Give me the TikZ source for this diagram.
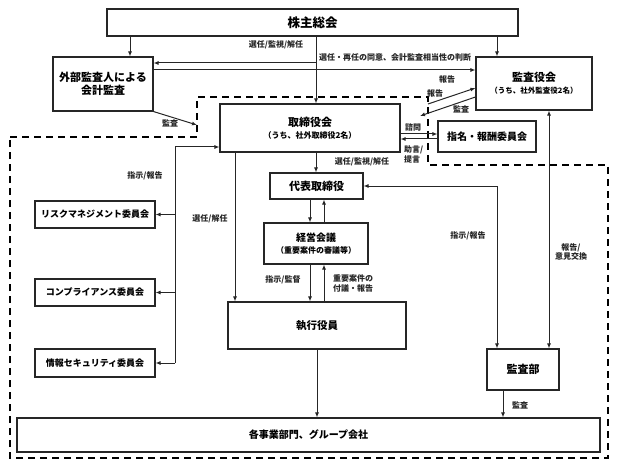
\documentclass[tikz,border=0pt]{standalone}
\usepackage{fontspec}
\setmainfont{Noto Sans CJK JP}
\usetikzlibrary{arrows.meta}
\begin{document}
\begin{tikzpicture}[x=1pt,y=-1pt,
  box/.style={draw=black!85,line width=1.1pt,inner sep=0pt,align=center},
  lab/.style={font=\fontsize{8}{9.5}\selectfont\bfseries,inner sep=0pt,align=center,text=black!85},
  ln/.style={line width=1pt,black!85},
  arr/.style={ln,-{Latex[length=5pt,width=4pt]}},
  arrb/.style={ln,{Latex[length=5pt,width=4pt]}-{Latex[length=5pt,width=4pt]}},
  dsh/.style={line width=2.4pt,dash pattern=on 7pt off 5pt}]
\useasboundingbox (0,0) rectangle (621,476);
% nodes
\node[box,minimum width=411pt,minimum height=27pt,font=\fontsize{12.5}{14}\selectfont\bfseries] (kabu) at (312.5,22.5) {株主総会};
\node[box,minimum width=100pt,minimum height=54pt,font=\fontsize{11}{13}\selectfont\bfseries] (gaibu) at (103,84) {外部監査人による\\会計監査};
\node[box,minimum width=116pt,minimum height=53pt] (kansayaku) at (534,83.5) {{\fontsize{11}{13}\selectfont\bfseries 監査役会}\\{\fontsize{7.5}{9}\selectfont\bfseries （うち、社外監査役2名）}};
\node[box,minimum width=180pt,minimum height=48pt] (tori) at (310,128) {{\fontsize{11}{13}\selectfont\bfseries 取締役会}\\{\fontsize{8}{9}\selectfont\bfseries （うち、社外取締役2名）}};
\node[box,minimum width=98pt,minimum height=31pt,font=\fontsize{10}{12}\selectfont\bfseries] (shimei) at (487,136.5) {指名・報酬委員会};
\node[box,minimum width=93pt,minimum height=26pt,font=\fontsize{11}{13}\selectfont\bfseries] (daihyo) at (316.5,186) {代表取締役};
\node[box,minimum width=104pt,minimum height=41pt] (keiei) at (316,243.5) {{\fontsize{10}{12}\selectfont\bfseries 経営会議}\\{\fontsize{8}{9}\selectfont\bfseries （重要案件の審議等）}};
\node[box,minimum width=178pt,minimum height=47pt,font=\fontsize{10.5}{12}\selectfont\bfseries] (shikko) at (317,325.5) {執行役員};
\node[box,minimum width=72pt,minimum height=41pt,font=\fontsize{11}{13}\selectfont\bfseries] (kansabu) at (523,369.5) {監査部};
\node[box,minimum width=583pt,minimum height=34pt,font=\fontsize{10}{12}\selectfont\bfseries] (kaku) at (308.5,435) {各事業部門、グループ会社};
\node[box,minimum width=120pt,minimum height=27pt,font=\fontsize{9}{11}\selectfont\bfseries] (risk) at (95,214.5) {リスクマネジメント委員会};
\node[box,minimum width=120pt,minimum height=27pt,font=\fontsize{9}{11}\selectfont\bfseries] (comp) at (95,292.5) {コンプライアンス委員会};
\node[box,minimum width=120pt,minimum height=28pt,font=\fontsize{9}{11}\selectfont\bfseries] (joho) at (95,363) {情報セキュリティ委員会};
% helper coordinates
\coordinate (x130) at (130,0);
\coordinate (x497) at (497,0);
\coordinate (x316) at (316,0);
\coordinate (x235) at (235,0);
\coordinate (x175) at (175,0);
\coordinate (x310) at (310,0);
\coordinate (x324) at (324,0);
\coordinate (x549) at (549,0);
\coordinate (x317) at (317,0);
\coordinate (x503) at (503,0);
\coordinate (y63) at (0,63);
\coordinate (y70) at (0,70);
\coordinate (y134) at (0,134);
\coordinate (y139) at (0,139);
\coordinate (y147) at (0,147);
\coordinate (dA) at (197,125);
\coordinate (dB) at (428,104);
\coordinate (dC) at (420,116);
% dashed boundary
\draw[dsh] (10,137) -- (197,137) -- (197,97) -- (428,97) -- (428,165) -- (608,165) -- (608,458) -- (10,458) -- cycle;
% connectors
\draw[arr] (kabu.south -| x130) -- (gaibu.north -| x130);
\draw[arr] (kabu.south -| x497) -- (kansayaku.north -| x497);
\draw[arr] (kabu.south -| x316) -- (tori.north -| x316);
\draw[arr] (x316 |- y63) -- (gaibu.east |- y63);
\draw[arr] (gaibu.east |- y70) -- (kansayaku.west |- y70);
\draw[arr] (gaibu.south east) -- (dA);
\draw[arr] (dB) -- ([yshift=-4.5pt]kansayaku.west);
\draw[arr] ([yshift=-13.5pt]kansayaku.west) -- (dC);
\draw[arr] (tori.east |- y134) -- (shimei.west |- y134);
\draw[arr] (shimei.west |- y139) -- (tori.east |- y139);
\draw[arr] (tori.south -| x316) -- (daihyo.north -| x316);
\draw[arr] (tori.south -| x235) -- (shikko.north -| x235);
\draw[arr] (x175 |- y147) -- (tori.west |- y147);
\draw[ln] (x175 |- y147) -- (x175 |- joho.east);
\draw[arr] (x175 |- risk.east) -- (risk.east);
\draw[arr] (x175 |- comp.east) -- (comp.east);
\draw[arr] (x175 |- joho.east) -- (joho.east);
\draw[arr] (daihyo.south -| x310) -- (keiei.north -| x310);
\draw[arr] (keiei.north -| x324) -- (daihyo.south -| x324);
\draw[arr] (keiei.south -| x310) -- (shikko.north -| x310);
\draw[arr] (shikko.north -| x324) -- (keiei.south -| x324);
\draw[arrb] (daihyo.east) -- (x497 |- daihyo.east) -- (x497 |- kansabu.north);
\draw[arrb] (kansayaku.south -| x549) -- (kansabu.north -| x549);
\draw[arr] (shikko.south -| x317) -- (kaku.north -| x317);
\draw[arr] (kansabu.south -| x503) -- (kaku.north -| x503);
% labels
\node[lab] (l1) at (276,45) {選任/監視/解任};
\node[lab] (l2) at (395,57) {選任・再任の同意、会計監査相当性の判断};
\node[lab] (l3) at (447,79) {報告};
\node[lab] (l4) at (435,93) {報告};
\node[lab] (l5) at (461,109) {監査};
\node[lab] (l6) at (413,127) {諮問};
\node[lab,align=left,anchor=west] (l7) at (404,154.5) {助言/\\提言};
\node[lab] (l8) at (170,123) {監査};
\node[lab] (l9) at (362,162) {選任/監視/解任};
\node[lab] (l10) at (145,176) {指示/報告};
\node[lab] (l11) at (210,219) {選任/解任};
\node[lab] (l12) at (283,280) {指示/監督};
\node[lab,align=left,anchor=west] (l13) at (333,283.5) {重要案件の\\付議・報告};
\node[lab] (l14) at (468,236) {指示/報告};
\node[lab] (l15) at (571,252) {報告/\\意見交換};
\node[lab] (l16) at (520,405) {監査};
\end{tikzpicture}
\end{document}
